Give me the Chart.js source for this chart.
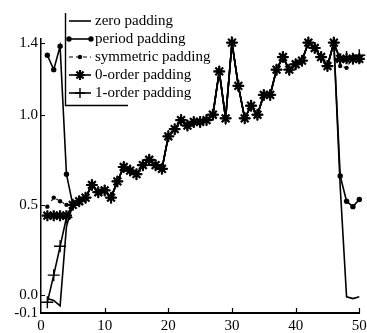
<!DOCTYPE html>
<html>
<head>
<meta charset="utf-8">
<script src="https://cdn.jsdelivr.net/npm/chart.js@4.4.0/dist/chart.umd.min.js"></script>
<style>
  html, body { margin: 0; padding: 0; background: #fff; }
  canvas { display: block; }
</style>
</head>
<body>
<canvas id="paddingChart" width="367" height="333"></canvas>
<script>
// sample positions 1..50 (4 padded samples at each end)
const samples = Array.from({length: 50}, (_, i) => i + 1);

// common part of the signal, samples 5..46
const signal = [0.50, 0.52, 0.54, 0.61, 0.57, 0.58, 0.54, 0.63, 0.71, 0.69,
                0.67, 0.72, 0.75, 0.72, 0.70, 0.88, 0.92, 0.97, 0.94, 0.96,
                0.96, 0.97, 1.00, 1.24, 0.98, 1.40, 1.16, 0.98, 1.05, 1.00,
                1.11, 1.11, 1.25, 1.32, 1.25, 1.28, 1.30, 1.40, 1.37, 1.32,
                1.27, 1.40];

// padded samples, 1..4 on the left and 47..50 on the right
const zeroLeft = [-0.02, -0.03, -0.06, 0.38];
const zeroRight = [0.60, -0.01, -0.02, -0.01];
const periodLeft = [1.33, 1.25, 1.38, 0.67];
const periodRight = [0.66, 0.52, 0.49, 0.53];
const symmetricLeft = [0.49, 0.54, 0.52, 0.50];
const symmetricRight = [1.27, 1.26, 1.32, 1.30];
const order0Left = [0.44, 0.44, 0.44, 0.44];
const order0Right = [1.31, 1.31, 1.31, 1.31];
const order1Left = [-0.04, 0.11, 0.27, 0.43];
const order1Right = [1.30, 1.32, 1.31, 1.33];

const seriesNames = ['zero padding', 'period padding', 'symmetric padding', '0-order padding', '1-order padding'];
const xTicks = [0, 10, 20, 30, 40, 50];
const yTicks = [-0.1, 0.0, 0.5, 1.0, 1.4];

function toPoints(left, right) {
    let values = left.concat(signal, right);
    return samples.map((x, i) => ({x: x, y: values[i]}));
}

const serif = '"Liberation Serif", "Times New Roman", serif';

function makeDataset(label, left, right, style) {
    return Object.assign({
        label: label,
        data: toPoints(left, right),
        borderColor: '#000',
        backgroundColor: '#000',
        borderWidth: 1.6,
        tension: 0,
        clip: false,
        pointRadius: 0,
        pointBorderColor: '#000',
        pointBackgroundColor: '#000'
    }, style);
}

let datasets = [
    makeDataset(seriesNames[0], zeroLeft, zeroRight, {}),
    makeDataset(seriesNames[1], periodLeft, periodRight, {pointStyle: 'circle', pointRadius: 2.7, pointBorderWidth: 0}),
    makeDataset(seriesNames[2], symmetricLeft, symmetricRight, {borderDash: [2, 5], borderWidth: 1.2, pointStyle: 'circle', pointRadius: 2.2, pointBorderWidth: 0}),
    makeDataset(seriesNames[3], order0Left, order0Right, {pointStyle: 'star', pointRadius: 5.5, pointBorderWidth: 2.2}),
    makeDataset(seriesNames[4], order1Left, order1Right, {pointStyle: 'cross', pointRadius: 6, pointBorderWidth: 1.4})
];

// where each legend sample puts its marker(s), relative to the sample line
const legendMarks = [[], [0, 1], [0.5], [0.5], [0.5]];

function drawMarker(ctx, style, x, y, r) {
    ctx.beginPath();
    if (style === 'circle') {
        ctx.arc(x, y, r, 0, Math.PI * 2);
        ctx.fill();
        return;
    }
    ctx.moveTo(x - r, y); ctx.lineTo(x + r, y);
    ctx.moveTo(x, y - r); ctx.lineTo(x, y + r);
    if (style === 'star') {
        let d = r * Math.SQRT1_2;
        ctx.moveTo(x - d, y - d); ctx.lineTo(x + d, y + d);
        ctx.moveTo(x - d, y + d); ctx.lineTo(x + d, y - d);
    }
    ctx.stroke();
}

const boxLegend = {
    id: 'boxLegend',
    afterDraw(chart) {
        let ctx = chart.ctx;
        ctx.save();
        ctx.strokeStyle = '#000';
        ctx.fillStyle = '#000';
        // frame: left and bottom edges only
        ctx.lineWidth = 1.4;
        ctx.beginPath();
        ctx.moveTo(65.5, 13);
        ctx.lineTo(65.5, 105.5);
        ctx.lineTo(128, 105.5);
        ctx.stroke();

        ctx.font = '15px ' + serif;
        ctx.textBaseline = 'middle';
        chart.data.datasets.forEach((ds, i) => {
            let y = 21 + i * 18;
            let x0 = 69, x1 = 91;
            ctx.lineWidth = ds.borderWidth;
            ctx.setLineDash(i === 2 ? [4, 3] : []);
            ctx.beginPath();
            ctx.moveTo(x0, y);
            ctx.lineTo(x1, y);
            ctx.stroke();
            ctx.setLineDash([]);
            legendMarks[i].forEach(t => {
                ctx.lineWidth = ds.pointBorderWidth || 1;
                drawMarker(ctx, ds.pointStyle, x0 + (x1 - x0) * t, y, Math.min(ds.pointRadius, 5));
            });
            ctx.fillText(ds.label, 95, y);
        });
        ctx.restore();
    }
};

// small tick marks pointing into the plot
const innerTicks = {
    id: 'innerTicks',
    afterDraw(chart) {
        let ctx = chart.ctx;
        let xs = chart.scales.x, ys = chart.scales.y;
        let area = chart.chartArea;
        ctx.save();
        ctx.strokeStyle = '#000';
        ctx.lineWidth = 1.2;
        ctx.beginPath();
        xTicks.slice(1).forEach(v => {
            let px = Math.round(xs.getPixelForValue(v)) + 0.5;
            ctx.moveTo(px, area.bottom);
            ctx.lineTo(px, area.bottom - 5);
        });
        yTicks.slice(1).forEach(v => {
            let py = Math.round(ys.getPixelForValue(v)) + 0.5;
            ctx.moveTo(area.left, py);
            ctx.lineTo(area.left + 4, py);
        });
        ctx.stroke();
        ctx.restore();
    }
};

let canvas = document.getElementById('paddingChart');
let ctx1 = canvas.getContext('2d');

new Chart(ctx1, {
    type: 'line',
    data: {datasets: datasets},
    options: {
        responsive: false,
        animation: false,
        devicePixelRatio: 1,
        layout: {padding: {top: 39, right: 7, left: 0, bottom: 0}},
        plugins: {
            legend: {display: false},
            tooltip: {enabled: false}
        },
        scales: {
            x: {
                type: 'linear',
                min: 0,
                max: 50,
                afterBuildTicks: scale => { scale.ticks = xTicks.map(v => ({value: v})); },
                afterFit: scale => {
                    scale.height = 20;
                    scale.paddingLeft = 0;
                    scale.paddingRight = 0;
                },
                ticks: {color: '#000', font: {family: serif, size: 15}, maxRotation: 0, padding: 4},
                grid: {display: false, drawTicks: false},
                border: {color: '#000', width: 2}
            },
            y: {
                type: 'linear',
                min: -0.1,
                max: 1.42,
                afterBuildTicks: scale => { scale.ticks = yTicks.map(v => ({value: v})); },
                afterFit: scale => { scale.width = 41; },
                ticks: {
                    color: '#000',
                    font: {family: serif, size: 15},
                    padding: 3,
                    callback: v => v.toFixed(1)
                },
                grid: {display: false, drawTicks: false},
                border: {color: '#000', width: 1.5}
            }
        }
    },
    plugins: [boxLegend, innerTicks]
});
</script>
</body>
</html>
